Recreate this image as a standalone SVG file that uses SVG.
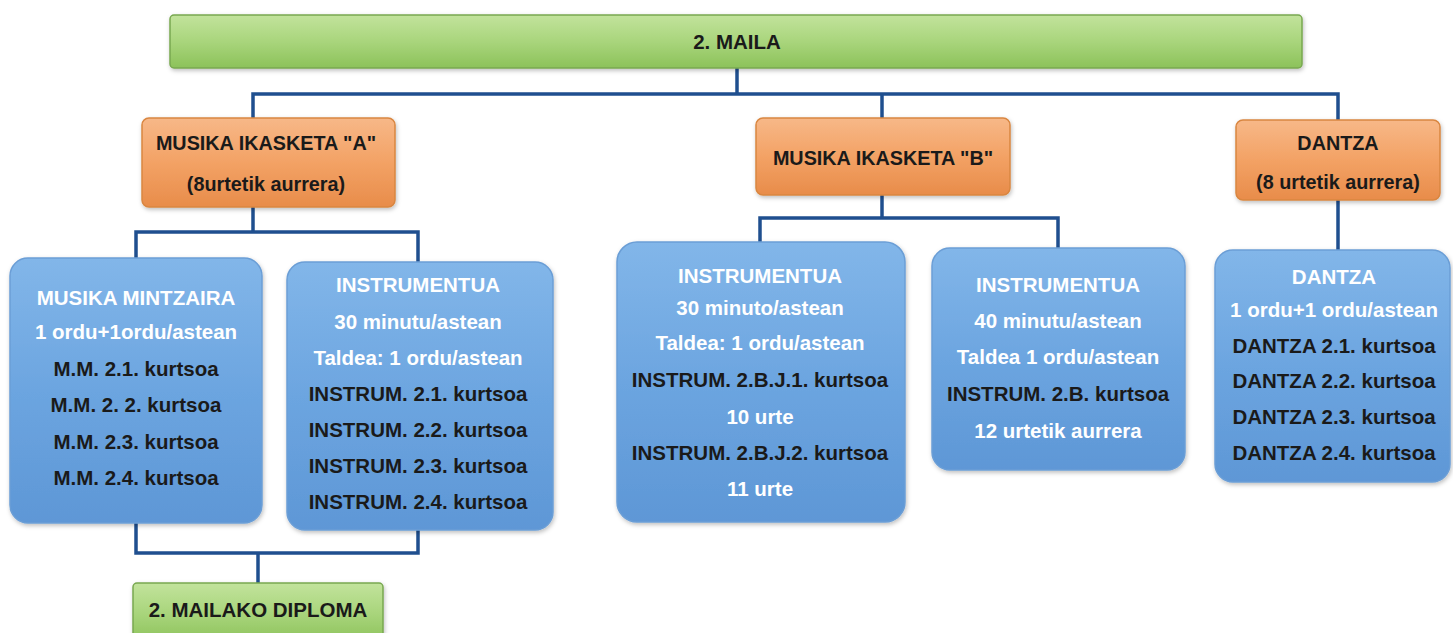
<svg xmlns="http://www.w3.org/2000/svg" width="1453" height="633" viewBox="0 0 1453 633">
<style>
  .t { font-family: "Liberation Sans", Arial, sans-serif; font-weight: bold; font-size: 20.5px; text-anchor: middle; }
  .o { font-size: 19.8px; }
  .dk { fill: #1a1a1a; }
  .wh { fill: #ffffff; }
  .conn { fill: none; stroke: #1f4f8f; stroke-width: 3.5; }
  .green { fill: url(#gGreen); stroke: #78a850; stroke-width: 1.5; }
  .orange { fill: url(#gOrange); stroke: #d98640; stroke-width: 1.5; }
  .blue { fill: url(#gBlue); stroke: #6b9ed6; stroke-width: 1.5; }
</style>
<defs>
  <linearGradient id="gGreen" x1="0" y1="0" x2="0" y2="1">
    <stop offset="0" stop-color="#c2e39c"/>
    <stop offset="0.5" stop-color="#a9d57c"/>
    <stop offset="1" stop-color="#8cc25a"/>
  </linearGradient>
  <linearGradient id="gOrange" x1="0" y1="0" x2="0" y2="1">
    <stop offset="0" stop-color="#f7b888"/>
    <stop offset="0.5" stop-color="#f3a265"/>
    <stop offset="1" stop-color="#e88c4a"/>
  </linearGradient>
  <linearGradient id="gBlue" x1="0" y1="0" x2="0" y2="1">
    <stop offset="0" stop-color="#82b6e9"/>
    <stop offset="0.5" stop-color="#6ca5e0"/>
    <stop offset="1" stop-color="#5e97d6"/>
  </linearGradient>
  <filter id="sh" x="-10%" y="-10%" width="120%" height="130%">
    <feDropShadow dx="1" dy="2" stdDeviation="2" flood-color="#000" flood-opacity="0.25"/>
  </filter>
</defs>

<g id="connectors">
  <path class="conn" d="M737,68 V94"/>
  <path class="conn" d="M253,118 V94 H1338 V120"/>
  <path class="conn" d="M882,94 V118"/>
  <path class="conn" d="M253,207 V232"/>
  <path class="conn" d="M136,258 V232 H418 V262"/>
  <path class="conn" d="M882,195 V218"/>
  <path class="conn" d="M760,242 V218 H1058 V248"/>
  <path class="conn" d="M1338,200 V250"/>
  <path class="conn" d="M136,523 V553 H418 V530"/>
  <path class="conn" d="M258,553 V583"/>
</g>

<g id="maila">
  <rect class="green" x="170" y="15" width="1132" height="53" rx="4" filter="url(#sh)"/>
  <text class="t dk" x="737" y="49">2. MAILA</text>
</g>

<g id="musika-a">
  <rect class="orange" x="142" y="118" width="253" height="89" rx="7" filter="url(#sh)"/>
  <text class="t o dk" x="266" y="150">MUSIKA IKASKETA "A"</text>
  <text class="t o dk" x="266" y="191">(8urtetik aurrera)</text>
</g>

<g id="musika-b">
  <rect class="orange" x="756" y="118" width="254" height="77" rx="7" filter="url(#sh)"/>
  <text class="t o dk" x="883" y="165">MUSIKA IKASKETA "B"</text>
</g>

<g id="dantza">
  <rect class="orange" x="1236" y="120" width="204" height="80" rx="7" filter="url(#sh)"/>
  <text class="t o dk" x="1338" y="150">DANTZA</text>
  <text class="t o dk" x="1338" y="189">(8 urtetik aurrera)</text>
</g>

<g id="musika-mintzaira">
  <rect class="blue" x="10" y="258" width="252" height="265" rx="18" filter="url(#sh)"/>
  <text class="t wh" x="136" y="305">MUSIKA MINTZAIRA</text>
  <text class="t wh" x="136" y="339">1 ordu+1ordu/astean</text>
  <text class="t dk" x="136" y="376">M.M. 2.1. kurtsoa</text>
  <text class="t dk" x="136" y="412">M.M. 2. 2. kurtsoa</text>
  <text class="t dk" x="136" y="449">M.M. 2.3. kurtsoa</text>
  <text class="t dk" x="136" y="485">M.M. 2.4. kurtsoa</text>
</g>

<g id="instrumentua-a">
  <rect class="blue" x="287" y="262" width="266" height="268" rx="18" filter="url(#sh)"/>
  <text class="t wh" x="418" y="292">INSTRUMENTUA</text>
  <text class="t wh" x="418" y="329">30 minutu/astean</text>
  <text class="t wh" x="418" y="365">Taldea: 1 ordu/astean</text>
  <text class="t dk" x="418" y="401">INSTRUM. 2.1. kurtsoa</text>
  <text class="t dk" x="418" y="437">INSTRUM. 2.2. kurtsoa</text>
  <text class="t dk" x="418" y="473">INSTRUM. 2.3. kurtsoa</text>
  <text class="t dk" x="418" y="509">INSTRUM. 2.4. kurtsoa</text>
</g>

<g id="instrumentua-b1">
  <rect class="blue" x="617" y="242" width="288" height="280" rx="20" filter="url(#sh)"/>
  <text class="t wh" x="760" y="283">INSTRUMENTUA</text>
  <text class="t wh" x="760" y="315">30 minuto/astean</text>
  <text class="t wh" x="760" y="350">Taldea: 1 ordu/astean</text>
  <text class="t dk" x="760" y="387">INSTRUM. 2.B.J.1. kurtsoa</text>
  <text class="t wh" x="760" y="424">10 urte</text>
  <text class="t dk" x="760" y="460">INSTRUM. 2.B.J.2. kurtsoa</text>
  <text class="t wh" x="760" y="496">11 urte</text>
</g>

<g id="instrumentua-b2">
  <rect class="blue" x="932" y="248" width="253" height="222" rx="18" filter="url(#sh)"/>
  <text class="t wh" x="1058" y="292">INSTRUMENTUA</text>
  <text class="t wh" x="1058" y="328">40 minutu/astean</text>
  <text class="t wh" x="1058" y="364">Taldea 1 ordu/astean</text>
  <text class="t dk" x="1058" y="401">INSTRUM. 2.B. kurtsoa</text>
  <text class="t wh" x="1058" y="438">12 urtetik aurrera</text>
</g>

<g id="dantza-box">
  <rect class="blue" x="1215" y="250" width="235" height="232" rx="18" filter="url(#sh)"/>
  <text class="t wh" x="1334" y="284">DANTZA</text>
  <text class="t wh" x="1334" y="317">1 ordu+1 ordu/astean</text>
  <text class="t dk" x="1334" y="353">DANTZA 2.1. kurtsoa</text>
  <text class="t dk" x="1334" y="388">DANTZA 2.2. kurtsoa</text>
  <text class="t dk" x="1334" y="424">DANTZA 2.3. kurtsoa</text>
  <text class="t dk" x="1334" y="460">DANTZA 2.4. kurtsoa</text>
</g>

<g id="diploma">
  <rect class="green" x="133" y="583" width="250" height="60" rx="4" filter="url(#sh)"/>
  <text class="t dk" x="258" y="617">2. MAILAKO DIPLOMA</text>
</g>
</svg>
